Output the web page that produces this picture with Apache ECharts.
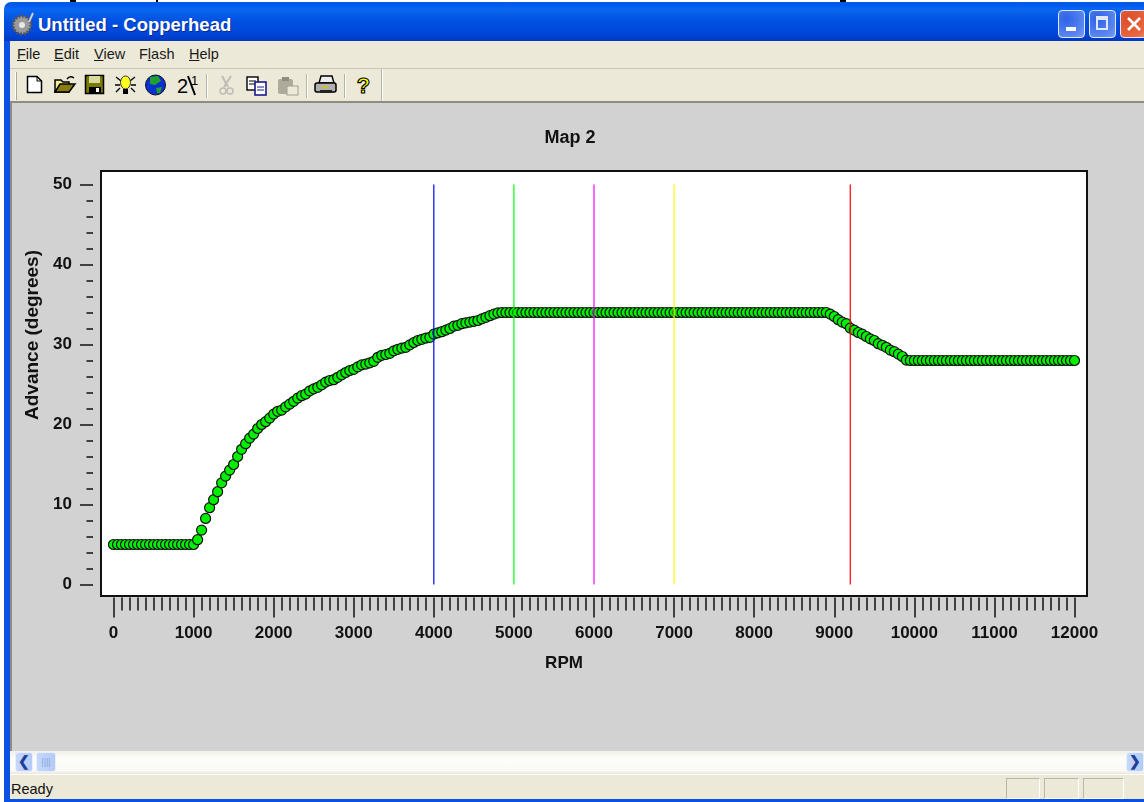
<!DOCTYPE html>
<html><head><meta charset="utf-8">
<script src="https://cdn.jsdelivr.net/npm/echarts@6/dist/echarts.min.js"></script>
<style>
html,body{margin:0;padding:0;width:1144px;height:802px;overflow:hidden;background:#fff;font-family:"Liberation Sans",Arial,sans-serif}
.a{position:absolute}
#titlebar{left:4px;top:2px;width:1140px;height:39px;border-radius:7px 0 0 0;background:linear-gradient(#0a5ae0 0,#0058ee 8%,#0a66f0 18%,#0050e0 50%,#0046d8 80%,#0038c0 100%)}
#ttl{left:38px;top:14px;color:#fff;font:bold 18.5px "Liberation Sans";text-shadow:1px 1px 0 #0a2a90;white-space:nowrap}
.wbtn{top:10px;width:25px;height:26px;border:1px solid #dfe8fb;border-radius:4px;background:radial-gradient(circle at 30% 30%,#2e62e8,#5a86f0 70%,#7ea0f4)}
#menu{left:10px;top:41px;width:1134px;height:27px;background:#ece9d8;border-bottom:1px solid #c9c6b6}
#tool{left:10px;top:69px;width:1134px;height:32px;background:#ece9d8;border-bottom:2px solid #8f8d80}
.m{top:46px;font:14.5px "Liberation Sans";color:#1a1a1a;white-space:nowrap}
.m u{text-decoration:underline}
.sep{top:74px;width:1px;height:24px;background:#b5b3a5;border-right:1px solid #fff}
#client{left:12px;top:103px;width:1132px;height:648px;background:#d2d2d2}
#lb{left:4px;top:41px;width:6px;height:761px;background:#0a50e4}
#lb2{left:10px;top:103px;width:2px;height:648px;background:#8f8d80}
#sb{left:10px;top:751px;width:1134px;height:23px;background:linear-gradient(#f0efe8,#fdfdfb 30%,#fbfaf5 85%,#e8e6dc)}
.sbb{top:752px;height:20px;border-radius:3px;background:linear-gradient(90deg,#c6d8fb,#b4cbf7);border:1px solid #e8effc;box-sizing:border-box;color:#1f3f9a;font:bold 14px "Liberation Sans";text-align:center;line-height:17px}
#st{left:10px;top:775px;width:1134px;height:24px;background:#ece9d8}
#rdy{left:11px;top:781px;font:14.5px "Liberation Sans";color:#111}
.pn{top:778px;height:21px;box-sizing:border-box;border:1px solid #b9b6a6;border-bottom-color:#fff;border-right-color:#fff}
#bb{left:4px;top:799px;width:1140px;height:3px;background:#0a50e4}
svg{position:absolute;overflow:visible}
#chart{position:absolute;left:0;top:0;width:1144px;height:802px}
</style></head><body>
<div class="a" style="left:70px;top:0;width:6px;height:2px;background:#000"></div>
<div class="a" style="left:156px;top:0;width:2px;height:2px;background:#000"></div>
<div class="a" style="left:840px;top:0;width:6px;height:2px;background:#000"></div>
<div class="a" id="titlebar"></div>
<svg style="left:12px;top:12px" width="24" height="24"><circle cx="10" cy="13" r="9" fill="#9a9a9a" stroke="#555" stroke-dasharray="2 1.5" stroke-width="3"/><circle cx="10" cy="13" r="3" fill="#e8e8e8"/><path d="M17 10L21 1" stroke="#ccc" stroke-width="2"/></svg>
<div class="a" id="ttl">Untitled - Copperhead</div>
<div class="a wbtn" style="left:1058px"><div class="a" style="left:7px;top:16px;width:10px;height:4px;background:#fff"></div></div>
<div class="a wbtn" style="left:1089px"><div class="a" style="left:6px;top:5px;width:12px;height:14px;border:2px solid #dfe8fb;border-top-width:4px;box-sizing:border-box"></div></div>
<div class="a wbtn" style="left:1120px;background:radial-gradient(circle at 30% 30%,#d8502c,#e8643c 70%,#ec8a64)"><svg style="left:6px;top:6px" width="14" height="14"><path d="M1 1L13 13M13 1L1 13" stroke="#fff" stroke-width="2.6"/></svg></div>
<div class="a" id="menu"></div>
<div class="a m" style="left:17px"><u>F</u>ile</div>
<div class="a m" style="left:54px"><u>E</u>dit</div>
<div class="a m" style="left:94px"><u>V</u>iew</div>
<div class="a m" style="left:139px">F<u>l</u>ash</div>
<div class="a m" style="left:189px"><u>H</u>elp</div>
<div class="a" id="tool"></div>
<div class="a" style="left:15px;top:72px;width:1px;height:28px;background:#fff;border-right:1px solid #aaa898"></div>
<div class="a" style="left:381px;top:69px;width:1px;height:32px;background:#b5b3a5;border-right:1px solid #fff"></div>
<svg style="left:0;top:0" width="400" height="102">
 <path d="M27.5 76.5H37L41.5 81V92.5H27.5Z" fill="#fff" stroke="#000" stroke-width="1.5"/><path d="M37 76.5V81H41.5" fill="none" stroke="#000"/>
 <path d="M55 92V80H61L63 82H69V92Z" fill="#f2ec9a" stroke="#000" stroke-width="1.5"/><path d="M55 92L60 84H75L69 92Z" fill="#8a7d10" stroke="#000" stroke-width="1.5"/><path d="M67 79Q70 75 74 78" fill="none" stroke="#000" stroke-width="1.5"/>
 <rect x="85.5" y="75.5" width="18" height="18" fill="#7a7a00" stroke="#000" stroke-width="1.5"/><rect x="89" y="76" width="11" height="7" fill="#d8d8a0"/><rect x="89" y="87" width="12" height="6" fill="#000"/><rect x="96" y="88" width="3" height="4" fill="#fff"/>
 <g stroke="#000" stroke-width="1.3"><path d="M116 77L121 81M135 77L130 81M115 85H120M131 85H136M116 92L120 88M135 92L131 88"/></g><ellipse cx="125.5" cy="82.5" rx="5" ry="6.5" fill="#ffff20" stroke="#333"/><rect x="123" y="89" width="5" height="5" fill="#000"/>
 <circle cx="155.5" cy="85" r="10" fill="#0a30d0" stroke="#112"/><path d="M150 77L158 76L161 81L155 85L150 84ZM156 88L162 87L160 93L157 93Z" fill="#1fa030"/>
 <g opacity=".55"><path d="M222 76L228 87M231 76L224 87" stroke="#999" stroke-width="2"/><circle cx="223" cy="91" r="3" fill="none" stroke="#999" stroke-width="1.5"/><circle cx="230" cy="91" r="3" fill="none" stroke="#999" stroke-width="1.5"/></g>
 <rect x="247" y="77" width="11" height="13" fill="#fff" stroke="#000" stroke-width="1.4"/><path d="M249 81h7M249 84h7" stroke="#000"/><rect x="255" y="82" width="11" height="13" fill="#fff" stroke="#1a1a8a" stroke-width="1.6"/><path d="M257 87h7M257 90h7" stroke="#1a1a8a"/>
 <rect x="278" y="79" width="15" height="15" rx="2" fill="#adab9c"/><rect x="282" y="77" width="7" height="4" fill="#8f8d80"/><rect x="287" y="86" width="11" height="9" fill="#ece9d8" stroke="#a0a090"/>
 <path d="M321 76H332L334 83H319Z" fill="#eee" stroke="#000" stroke-width="1.4"/><rect x="315" y="83" width="21" height="9" rx="2" fill="#b0b0b0" stroke="#000" stroke-width="1.5"/><rect x="320" y="90" width="12" height="3" fill="#222"/><rect x="322" y="86" width="6" height="2" fill="#d0c020"/>
 <text x="363.5" y="93" text-anchor="middle" font-family="Liberation Sans" font-weight="bold" font-size="22" fill="#ffff00" stroke="#000" stroke-width="1.1">?</text>
 <text x="177" y="93" font-family="Liberation Sans" font-size="20" fill="#000">2</text><path d="M188 76L195 95" stroke="#000" stroke-width="2"/><text x="191" y="85" font-family="Liberation Sans" font-size="13" fill="#000">1</text>
</svg>
<div class="a sep" style="left:206px"></div>
<div class="a sep" style="left:306px"></div>
<div class="a sep" style="left:344px"></div>
<div class="a" id="lb"></div>
<div class="a" id="client"></div>
<div class="a" id="lb2"></div>
<div class="a" id="sb"></div>
<div class="a sbb" style="left:15px;width:18px">&#10094;</div>
<div class="a sbb" style="left:36px;width:20px;color:#8aa4dc;font:9px 'Liberation Sans';line-height:19px">||||</div>
<div class="a sbb" style="left:1126px;width:18px">&#10095;</div>
<div class="a" id="st"></div>
<div class="a" id="rdy">Ready</div>
<div class="a pn" style="left:1006px;width:34px"></div>
<div class="a pn" style="left:1044px;width:35px"></div>
<div class="a pn" style="left:1083px;width:41px"></div>
<div class="a" id="bb"></div>
<div id="chart"></div>
<script>
const chartTitle = "Map 2";
const xName = "RPM";
const yName = "Advance (degrees)";
const rpm = [
0,50,100,150,200,250,300,350,400,450,500,550,600,650,700,750,800,850,900,950,
1000,1050,1100,1150,1200,1250,1300,1350,1400,1450,1500,1550,1600,1650,1700,1750,1800,1850,1900,1950,
2000,2050,2100,2150,2200,2250,2300,2350,2400,2450,2500,2550,2600,2650,2700,2750,2800,2850,2900,2950,
3000,3050,3100,3150,3200,3250,3300,3350,3400,3450,3500,3550,3600,3650,3700,3750,3800,3850,3900,3950,
4000,4050,4100,4150,4200,4250,4300,4350,4400,4450,4500,4550,4600,4650,4700,4750,4800,4850,4900,4950,
5000,5050,5100,5150,5200,5250,5300,5350,5400,5450,5500,5550,5600,5650,5700,5750,5800,5850,5900,5950,
6000,6050,6100,6150,6200,6250,6300,6350,6400,6450,6500,6550,6600,6650,6700,6750,6800,6850,6900,6950,
7000,7050,7100,7150,7200,7250,7300,7350,7400,7450,7500,7550,7600,7650,7700,7750,7800,7850,7900,7950,
8000,8050,8100,8150,8200,8250,8300,8350,8400,8450,8500,8550,8600,8650,8700,8750,8800,8850,8900,8950,
9000,9050,9100,9150,9200,9250,9300,9350,9400,9450,9500,9550,9600,9650,9700,9750,9800,9850,9900,9950,
10000,10050,10100,10150,10200,10250,10300,10350,10400,10450,10500,10550,10600,10650,10700,10750,10800,10850,10900,10950,
11000,11050,11100,11150,11200,11250,11300,11350,11400,11450,11500,11550,11600,11650,11700,11750,11800,11850,11900,11950,
12000];
const advance = [
5,5,5,5,5,5,5,5,5,5,5,5,5,5,5,5,5,5,5,5,
5,5.6,6.8,8.26,9.6,10.6,11.6,12.7,13.55,14.3,15,16,16.9,17.6,18.3,18.8,19.5,20,20.35,20.8,
21.3,21.65,21.8,22.2,22.55,22.9,23.3,23.6,23.8,24.2,24.45,24.65,24.95,25.3,25.5,25.6,25.9,26.2,26.5,26.75,
26.9,27.2,27.45,27.55,27.7,27.9,28.4,28.65,28.75,28.9,29.2,29.4,29.55,29.65,29.95,30.25,30.5,30.65,30.8,30.9,
31.3,31.45,31.6,31.8,32,32.3,32.4,32.6,32.7,32.8,32.9,33,33.2,33.4,33.6,33.8,33.95,34,34,34,
34,34,34,34,34,34,34,34,34,34,34,34,34,34,34,34,34,34,34,34,
34,34,34,34,34,34,34,34,34,34,34,34,34,34,34,34,34,34,34,34,
34,34,34,34,34,34,34,34,34,34,34,34,34,34,34,34,34,34,34,34,
34,34,34,34,34,34,34,34,34,34,34,34,34,34,34,34,34,34,34,33.8,
33.5,33.1,32.8,32.6,32.05,31.8,31.5,31.3,31,30.7,30.5,30.1,29.9,29.65,29.3,29.1,28.8,28.5,28.05,28,
28,28,28,28,28,28,28,28,28,28,28,28,28,28,28,28,28,28,28,28,
28,28,28,28,28,28,28,28,28,28,28,28,28,28,28,28,28,28,28,28,
28];
const markerRpm = [4000,5000,6000,7000,9200];
const markerColors = ["#0000ff","#00ff00","#ff00ff","#ffff00","#ff0000"];
const lineLow = 0, lineHigh = 50;

const font = "Liberation Sans";
const lab = {fontFamily:font,fontWeight:"bold",fontSize:17,color:"#111"};
const plain = v => String(v);
const chart = echarts.init(document.getElementById("chart"),null,{renderer:"canvas"});
chart.setOption({
  backgroundColor:"transparent",
  animation:false,
  title:{text:chartTitle,left:570,top:129,textAlign:"center",padding:0,textStyle:{...lab,fontSize:18}},
  grid:[
    {left:101,top:171,width:986,height:425,show:true,backgroundColor:"#fff",borderColor:"#111",borderWidth:2},
    {left:113.5,top:184.5,width:961,height:400}
  ],
  xAxis:[
    {gridIndex:0,show:false,type:"value",min:0,max:1},
    {gridIndex:1,type:"value",min:0,max:12000,interval:1000,position:"bottom",offset:13,
     name:xName,nameLocation:"middle",nameGap:57,nameTextStyle:{...lab,padding:[0,60,0,0]},
     axisLine:{show:false,onZero:false},splitLine:{show:false},
     axisTick:{show:true,length:20,lineStyle:{color:"#111",width:1.5}},
     minorTick:{show:true,splitNumber:10,length:13,lineStyle:{color:"#111",width:1.5}},
     axisLabel:{...lab,margin:27,formatter:plain,hideOverlap:false,showMinLabel:true,showMaxLabel:true}}
  ],
  yAxis:[
    {gridIndex:0,show:false,type:"value",min:0,max:1},
    {gridIndex:1,type:"value",min:0,max:50,interval:10,position:"left",offset:20.5,
     name:yName,nameLocation:"middle",nameGap:47,nameRotate:90,nameTextStyle:{...lab,fontSize:19,padding:[0,0,0,99]},
     axisLine:{show:false,onZero:false},splitLine:{show:false},
     axisTick:{show:true,length:13,lineStyle:{color:"#111",width:1.5}},
     minorTick:{show:true,splitNumber:5,length:6.5,lineStyle:{color:"#111",width:1.5}},
     axisLabel:{...lab,margin:21,padding:[3,0,0,0],formatter:plain,showMinLabel:true,showMaxLabel:true}}
  ],
  series:[
    {type:"scatter",xAxisIndex:1,yAxisIndex:1,symbol:"circle",symbolSize:10,z:3,clip:false,
     itemStyle:{color:"#00f000",borderColor:"#111",borderWidth:1.2,opacity:1},
     data:rpm.map((r,i)=>[r,advance[i]])},
    ...markerRpm.map((r,i)=>({type:"line",xAxisIndex:1,yAxisIndex:1,symbol:"none",z:4,silent:true,
      lineStyle:{color:markerColors[i],width:1.2},data:[[r,lineLow],[r,lineHigh]]}))
  ]
});
</script>
</body></html>
